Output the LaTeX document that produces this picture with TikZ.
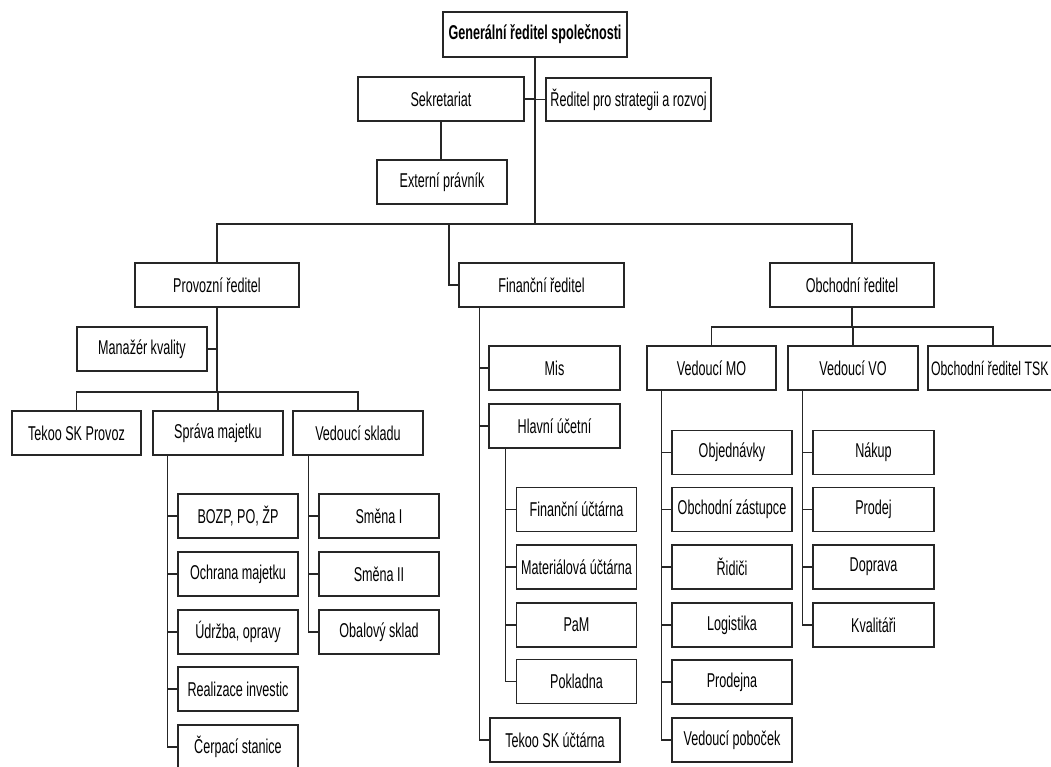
\documentclass[tikz,border=0pt]{standalone}
\usepackage{fontspec}
\setmainfont[FakeStretch=0.63]{Liberation Sans}
\begin{document}
\begin{tikzpicture}[x=1pt,y=-1pt,
  box/.style={draw=black!85, line width=1.3pt, minimum height=44pt, inner sep=1pt,
    font=\fontsize{20}{24}\selectfont, text=black},
  conn/.style={draw=black!85, line width=1.3pt}]
\useasboundingbox (0,0) rectangle (1051,766);
\clip (0,0) rectangle (1051,766);
\fill[white] (0,0) rectangle (1051,766);

% top level
\node[box, minimum width=184, minimum height=45, font=\fontsize{20}{24}\selectfont\bfseries] (gen) at (535,34.5) {Generální ředitel společnosti};
\node[box, minimum width=166] (sek) at (441,99) {Sekretariat};
\node[box, minimum width=165, minimum height=43] (strat) at (628.5,99.5) {Ředitel pro strategii a rozvoj};
\node[box, minimum width=130] (ext) at (442,182) {Externí právník};

% directors
\node[box, minimum width=164] (prov) at (217,285) {Provozní ředitel};
\node[box, minimum width=165] (fin) at (541.5,285) {Finanční ředitel};
\node[box, minimum width=164] (obch) at (852,285) {Obchodní ředitel};

% operations
\node[box, minimum width=130] (kval) at (142,349) {Manažér kvality};
\node[box, minimum width=129] (tekoo) at (76.5,433) {Tekoo SK Provoz};
\node[box, minimum width=130] (sprava) at (218,433) {Správa majetku};
\node[box, minimum width=130] (sklad) at (358,433) {Vedoucí skladu};

\node[box, minimum width=120] (bozp) at (238,516) {BOZP, PO, ŽP};
\node[box, minimum width=120] (ochr) at (238,574) {Ochrana majetku};
\node[box, minimum width=120] (udrz) at (238,632) {Údržba, opravy};
\node[box, minimum width=120] (real) at (238,689) {Realizace investic};
\node[box, minimum width=120] (cerp) at (238,747) {Čerpací stanice};

\node[box, minimum width=120] (sm1) at (379,516) {Směna I};
\node[box, minimum width=120] (sm2) at (379,574) {Směna II};
\node[box, minimum width=120] (obal) at (379,632) {Obalový sklad};

% finance
\node[box, minimum width=131] (mis) at (554.5,368) {Mis};
\node[box, minimum width=131] (hlav) at (554.5,426) {Hlavní účetní};
\node[box, minimum width=120] (fu) at (576.5,509.5) {Finanční účtárna};
\node[box, minimum width=120] (mu) at (576.5,567) {Materiálová účtárna};
\node[box, minimum width=120] (pam) at (576.5,625) {PaM};
\node[box, minimum width=120] (pok) at (576.5,681.5) {Pokladna};
\node[box, minimum width=130] (tsku) at (555,740) {Tekoo SK účtárna};

% sales
\node[box, minimum width=129] (mo) at (711.5,368) {Vedoucí MO};
\node[box, minimum width=130] (vo) at (853,368) {Vedoucí VO};
\node[box, minimum width=130, font=\fontsize{19.5}{24}\selectfont] (tsk) at (993,368) {\makebox[124pt][l]{Obchodní ředitel TSK}};

\node[box, minimum width=120] (obj) at (732,452.5) {Objednávky};
\node[box, minimum width=120] (zast) at (732,509.5) {Obchodní zástupce};
\node[box, minimum width=120] (rid) at (732,567) {Řidiči};
\node[box, minimum width=120] (log) at (732,625) {Logistika};
\node[box, minimum width=120] (prod) at (732,682) {Prodejna};
\node[box, minimum width=120] (pob) at (732,740) {Vedoucí poboček};

\node[box, minimum width=121] (nak) at (873.5,452.5) {Nákup};
\node[box, minimum width=121] (prodej) at (873.5,509.5) {Prodej};
\node[box, minimum width=121] (dop) at (873.5,567) {Doprava};
\node[box, minimum width=121] (kvt) at (873.5,625) {Kvalitáři};

% connectors: top
\coordinate (bus) at (535,224);
\draw[conn] (gen.south) -- (bus);
\draw[conn] (sek.east) -- (sek.east -| gen.south);
\draw[conn] (strat.west) -- (strat.west -| gen.south);
\draw[conn] (sek.south) -- (sek.south |- ext.north);
\draw[conn] (prov.north) -- (prov.north |- bus) -- (obch.north |- bus) -- (obch.north);
\coordinate (finbr) at (449,224);
\draw[conn] (finbr) |- (fin.west);

% operations
\coordinate (sb) at (217,392);
\draw[conn] (prov.south) -- (sb);
\draw[conn] (kval.east) -- (kval.east -| prov.south);
\draw[conn] (tekoo.north) -- (tekoo.north |- sb) -- (sklad.north |- sb) -- (sklad.north);
\draw[conn] (sprava.north) -- (sprava.north |- sb);
\foreach \n in {bozp,ochr,udrz,real,cerp}
  \draw[conn] ([xshift=15pt]sprava.south west) |- (\n.west);
\foreach \n in {sm1,sm2,obal}
  \draw[conn] ([xshift=16pt]sklad.south west) |- (\n.west);

% finance
\foreach \n in {mis,hlav,tsku}
  \draw[conn] ([xshift=21pt]fin.south west) |- (\n.west);
\foreach \n in {fu,mu,pam,pok}
  \draw[conn] ([xshift=17pt]hlav.south west) |- (\n.west);

% sales
\coordinate (ob) at (852,327);
\draw[conn] (obch.south) -- (ob);
\draw[conn] (mo.north) -- (mo.north |- ob) -- (tsk.north |- ob) -- (tsk.north);
\draw[conn] (vo.north) -- (vo.north |- ob);
\foreach \n in {obj,zast,rid,log,prod,pob}
  \draw[conn] ([xshift=15pt]mo.south west) |- (\n.west);
\foreach \n in {nak,prodej,dop,kvt}
  \draw[conn] ([xshift=15pt]vo.south west) |- (\n.west);
\end{tikzpicture}
\end{document}
